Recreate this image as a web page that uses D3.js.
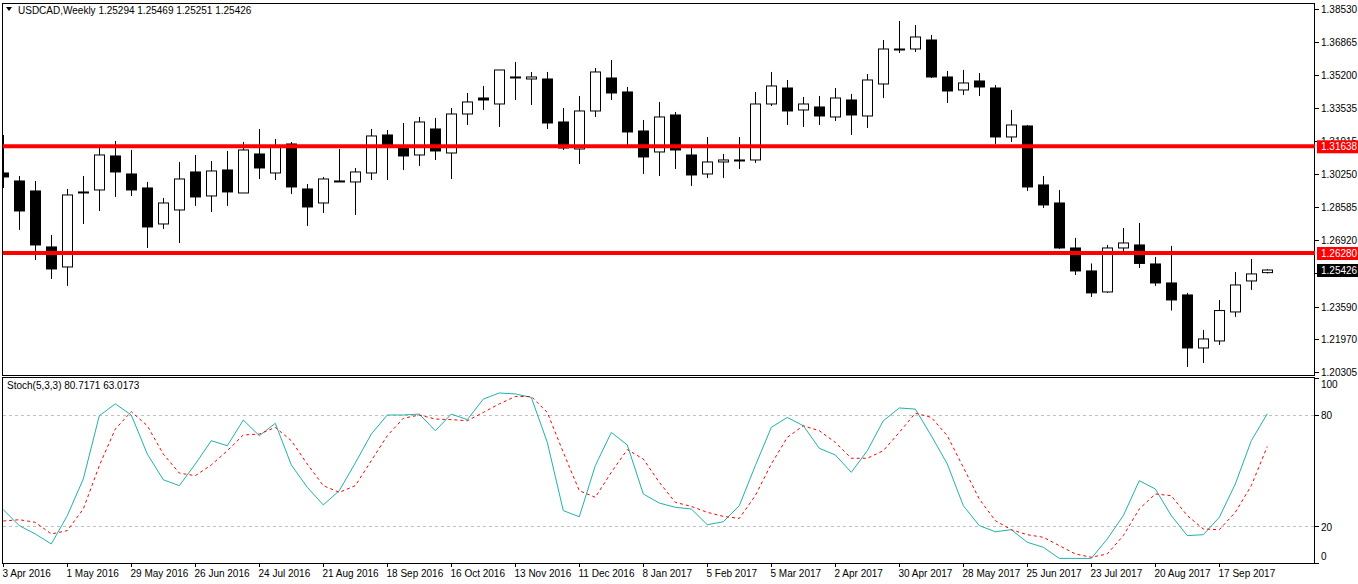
<!DOCTYPE html>
<html>
<head>
<meta charset="utf-8">
<script src="https://cdn.jsdelivr.net/npm/d3@7"></script>
<style>
body { margin: 0; background: #fff; }
text { font-family: "Liberation Sans", Arial, sans-serif; font-size: 10px; }
</style>
</head>
<body>
<svg id="chart" width="1358" height="584"></svg>
<script>
// weekly candles: open, high, low, close
var opens = [1.30297,1.29896,1.29394,1.26583,1.25578,1.29344,1.29444,1.31151,1.30247,1.29544,
  1.27737,1.28440,1.30348,1.29143,1.30448,1.29293,1.31251,1.30297,1.31753,1.29494,
  1.28791,1.29896,1.29846,1.30297,1.32205,1.31653,1.31201,1.32506,1.31301,1.33259,
  1.34062,1.33761,1.35117,1.35016,1.35016,1.32858,1.31502,1.33410,1.35066,1.34364,
  1.32406,1.31352,1.33209,1.31201,1.30247,1.30850,1.30950,1.30950,1.33761,1.34564,
  1.33460,1.33611,1.33109,1.33962,1.33159,1.34765,1.36522,1.36522,1.36974,1.35117,
  1.34464,1.34916,1.34564,1.32105,1.32657,1.29695,1.28791,1.26532,1.25378,1.24324,
  1.26532,1.26683,1.25729,1.24775,1.24173,1.21512,1.21864,1.23320,1.24876,1.25294];
var highs = [1.32205,1.30147,1.29894,1.27185,1.29494,1.30147,1.31552,1.31904,1.31452,1.29846,
  1.29042,1.30850,1.31201,1.30900,1.31402,1.31854,1.32506,1.32004,1.31854,1.29745,
  1.30097,1.31502,1.30548,1.32506,1.32456,1.32807,1.33109,1.33058,1.33560,1.34313,
  1.34665,1.35468,1.35870,1.35368,1.35368,1.33560,1.34163,1.35568,1.35970,1.34615,
  1.32958,1.33862,1.33360,1.31603,1.32105,1.31251,1.32105,1.34364,1.35368,1.34966,
  1.34113,1.34163,1.34564,1.34263,1.35267,1.36974,1.37928,1.37727,1.37225,1.35418,
  1.35468,1.35317,1.34715,1.33460,1.32707,1.30147,1.29444,1.27035,1.25756,1.26683,
  1.27536,1.27787,1.26081,1.26633,1.24276,1.22416,1.23922,1.25328,1.25980,1.25469];
var lows = [1.29544,1.27436,1.25930,1.24976,1.24625,1.27737,1.28390,1.29093,1.29143,1.26532,
  1.27487,1.26783,1.28641,1.28340,1.28641,1.29293,1.29996,1.29946,1.29243,1.27637,
  1.28289,1.29846,1.28189,1.29946,1.29946,1.30448,1.30649,1.30950,1.29996,1.32707,
  1.33460,1.32607,1.33962,1.33711,1.32506,1.31452,1.30749,1.33109,1.33962,1.31603,
  1.30247,1.30147,1.30498,1.29645,1.30046,1.30046,1.30498,1.30800,1.33661,1.32707,
  1.32607,1.32707,1.32908,1.32205,1.32557,1.34062,1.36321,1.36372,1.35066,1.33812,
  1.34213,1.34163,1.31753,1.31854,1.29394,1.28541,1.26482,1.25177,1.24073,1.24276,
  1.26332,1.25528,1.24625,1.23390,1.20559,1.20759,1.21663,1.23070,1.24424,1.25251];
var closes = [1.30097,1.28390,1.26683,1.25478,1.29193,1.29344,1.31201,1.30348,1.29444,1.27587,
  1.28791,1.29996,1.29093,1.30398,1.29344,1.31452,1.30548,1.31653,1.29595,1.28591,
  1.29996,1.29860,1.30348,1.32155,1.31653,1.31151,1.32858,1.31402,1.33259,1.33862,
  1.33962,1.35468,1.35100,1.35117,1.32807,1.31552,1.33410,1.35368,1.34313,1.32356,
  1.31101,1.33109,1.31452,1.30197,1.30850,1.30950,1.30925,1.33761,1.34665,1.33410,
  1.33761,1.33159,1.34062,1.33209,1.34966,1.36522,1.36472,1.37125,1.35117,1.34414,
  1.34816,1.34615,1.32105,1.32707,1.29595,1.28691,1.26532,1.25378,1.24276,1.26532,
  1.26783,1.25756,1.24775,1.23922,1.21512,1.21964,1.23390,1.24675,1.25229,1.25426];

// Stoch(5,3,3)
var stochK = [28.8,20.2,15.7,10.3,25.6,45.4,79.6,86,80,58.9,45,41.8,53.5,66.1,63.4,77.3,68.8,75.5,53,40.9,
  31.4,39.1,54.1,69.7,80,80,80.5,71.5,80.5,77.5,88.6,91.9,91.4,89.5,65.2,28.3,25,52.6,70.6,63.8,
  37.3,32.4,30.1,29.2,20.7,22.3,31,52.6,73.3,78.7,74.2,62,58.4,49,60.7,76.9,83.8,83.2,68.8,53.5,
  31,20.2,16.9,18,11.2,8.5,2.5,2.5,2.5,13,25.6,44.5,40,25.6,14.8,15.3,24.7,42.7,66.1,80.7];
var stochD = [22.7,23.4,22,15.7,17.5,29.2,52.6,72.4,81.8,74.2,58.9,48.6,47.2,53,60.7,69.2,69.7,73.3,66.1,53.5,
  41.8,38.2,41.8,55.3,68.8,78.2,80,77.8,77.5,76.9,81.4,86,90,90,81.4,59.8,39.1,35.5,49,61.3,
  56.2,43.6,32.8,30.6,27.4,25.2,24.1,36.4,53.5,67.9,74.2,71.5,65.2,56.6,56.6,60.7,70.6,81,78.7,68.8,
  51.7,34.6,22.9,18,15.3,13.9,9.4,4.9,3.1,4.9,14.8,29.2,37.3,36.4,25.6,18.4,18,27.4,41.8,63.0];

var dateLabels = ["3 Apr 2016","1 May 2016","29 May 2016","26 Jun 2016","24 Jul 2016","21 Aug 2016",
  "18 Sep 2016","16 Oct 2016","13 Nov 2016","11 Dec 2016","8 Jan 2017","5 Feb 2017","5 Mar 2017",
  "2 Apr 2017","30 Apr 2017","28 May 2017","25 Jun 2017","23 Jul 2017","20 Aug 2017","17 Sep 2017"];
var priceTicks = [1.38530,1.36865,1.35200,1.33535,1.31915,1.30250,1.28585,1.26920,1.25255,1.23590,1.21970,1.20305];
var levels = [1.31638,1.26280];
var lastPrice = 1.25426;

var svg = d3.select("#chart");
var left = 3, right = 1315;
var mainTop = 3, mainBot = 375, subTop = 377, subBot = 563;

var x = d3.scaleLinear().domain([0, 1]).range([3.3, 19.3]);
var y = d3.scaleLinear().domain([1.20305, 1.38530]).range([372, 9]);
var ys = d3.scaleLinear().domain([0, 100]).range([563, 378]);

var defs = svg.append("defs");
defs.append("clipPath").attr("id", "cm").append("rect")
  .attr("x", left).attr("y", mainTop).attr("width", right - left).attr("height", mainBot - mainTop);
defs.append("clipPath").attr("id", "cs").append("rect")
  .attr("x", left).attr("y", subTop).attr("width", right - left).attr("height", subBot - subTop);

// frames
svg.append("rect").attr("x", left - 0.5).attr("y", mainTop + 0.5).attr("width", right - left).attr("height", mainBot - mainTop)
  .attr("fill", "none").attr("stroke", "#000");
svg.append("rect").attr("x", left - 0.5).attr("y", subTop + 0.5).attr("width", right - left).attr("height", subBot - subTop)
  .attr("fill", "none").attr("stroke", "#000");

// candles
var gm = svg.append("g").attr("clip-path", "url(#cm)");
var idx = d3.range(opens.length);
gm.selectAll("line.wick").data(idx).enter().append("line")
  .attr("x1", function(i) { return Math.round(x(i)) + 0.5; })
  .attr("x2", function(i) { return Math.round(x(i)) + 0.5; })
  .attr("y1", function(i) { return y(highs[i]); })
  .attr("y2", function(i) { return y(lows[i]); })
  .attr("stroke", "#000").attr("stroke-width", 1);
gm.selectAll("rect.body").data(idx).enter().append("rect")
  .attr("x", function(i) { return Math.round(x(i)) - 4.5; })
  .attr("width", 10)
  .attr("y", function(i) { return y(Math.max(opens[i], closes[i])); })
  .attr("height", function(i) { return Math.max(1, Math.abs(y(opens[i]) - y(closes[i]))); })
  .attr("fill", function(i) { return closes[i] < opens[i] ? "#000" : "#fff"; })
  .attr("stroke", "#000").attr("stroke-width", 1);

// red levels
gm.selectAll("line.lvl").data(levels).enter().append("line")
  .attr("x1", left).attr("x2", right)
  .attr("y1", function(d) { return y(d); }).attr("y2", function(d) { return y(d); })
  .attr("stroke", "#ff0000").attr("stroke-width", 4);

// price axis
var ga = svg.append("g");
priceTicks.forEach(function(v) {
  ga.append("line").attr("x1", right).attr("x2", right + 4).attr("y1", Math.round(y(v)) + 0.5).attr("y2", Math.round(y(v)) + 0.5).attr("stroke", "#000");
  ga.append("text").attr("x", right + 6).attr("y", y(v) + 4).text(v.toFixed(5));
});
levels.forEach(function(v) {
  ga.append("rect").attr("x", right + 2).attr("y", y(v) - 6).attr("width", 42).attr("height", 13).attr("fill", "#ff0000");
  ga.append("text").attr("x", right + 6).attr("y", y(v) + 4).attr("fill", "#fff").text(v.toFixed(5));
});
ga.append("rect").attr("x", right + 2).attr("y", y(lastPrice) - 6).attr("width", 42).attr("height", 13).attr("fill", "#000");
ga.append("text").attr("x", right + 6).attr("y", y(lastPrice) + 4).attr("fill", "#fff").text(lastPrice.toFixed(5));

// title
svg.append("path").attr("d", "M6,7 L12,7 L9,11 Z").attr("fill", "#000");
svg.append("text").attr("x", 18).attr("y", 14).text("USDCAD,Weekly  1.25294 1.25469 1.25251 1.25426");

// stochastic pane
var gs = svg.append("g").attr("clip-path", "url(#cs)");
[20, 80].forEach(function(v) {
  gs.append("line").attr("x1", left).attr("x2", right).attr("y1", Math.round(ys(v)) + 0.5).attr("y2", Math.round(ys(v)) + 0.5)
    .attr("stroke", "#c0c0c0").attr("stroke-dasharray", "3,3");
});
var lineK = d3.line().x(function(d, i) { return x(i); }).y(function(d) { return ys(d); });
gs.append("path").datum(stochK).attr("d", lineK).attr("fill", "none").attr("stroke", "#20b2aa").attr("stroke-width", 1);
gs.append("path").datum(stochD).attr("d", lineK).attr("fill", "none").attr("stroke", "#ff0000").attr("stroke-width", 1)
  .attr("stroke-dasharray", "3,3");
svg.append("text").attr("x", 7).attr("y", 389).text("Stoch(5,3,3) 80.7171 63.0173");

[[100, 384], [80, 415], [20, 527], [0, 556]].forEach(function(d) {
  svg.append("line").attr("x1", right).attr("x2", right + 4).attr("y1", Math.round(ys(d[0])) + 0.5).attr("y2", Math.round(ys(d[0])) + 0.5).attr("stroke", "#000");
  svg.append("text").attr("x", right + 6).attr("y", d[1] + 4).text(d[0]);
});

// time axis
dateLabels.forEach(function(t, k) {
  var xi = Math.round(x(k * 4)) + 0.5;
  svg.append("line").attr("x1", xi).attr("x2", xi).attr("y1", subBot).attr("y2", subBot + 4).attr("stroke", "#000");
  svg.append("text").attr("x", xi - 1).attr("y", 577).text(t);
});
</script>
</body>
</html>
